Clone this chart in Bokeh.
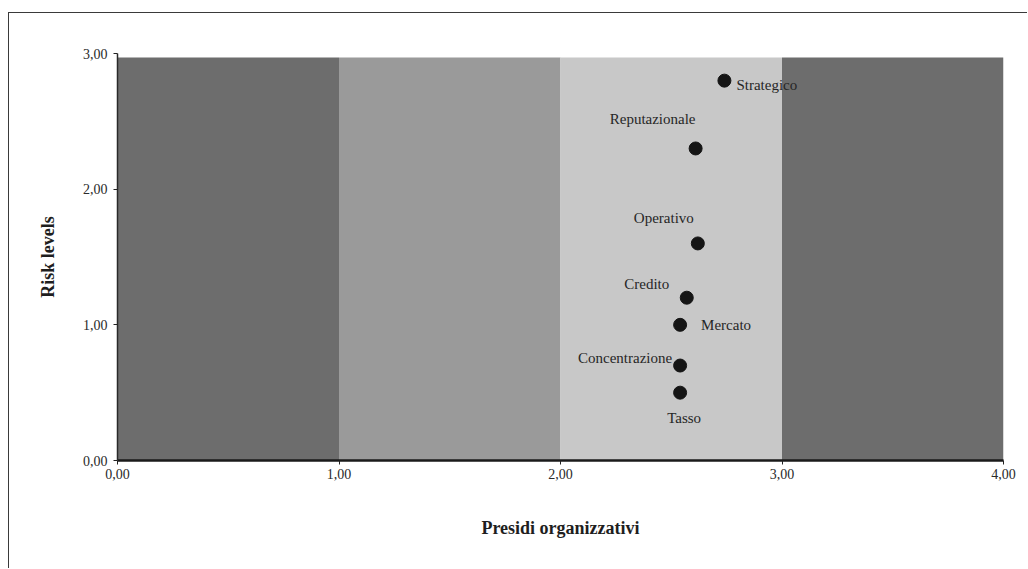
from bokeh.plotting import figure
from bokeh.models import ColumnDataSource, FixedTicker, Range1d
from bokeh.core.properties import value
from bokeh.embed import file_html
from bokeh.resources import INLINE

# ---- data ----
risk_names = ["Strategico", "Reputazionale", "Operativo", "Credito", "Mercato", "Concentrazione", "Tasso"]
presidi = [2.74, 2.61, 2.62, 2.57, 2.54, 2.54, 2.54]
risk_levels = [2.80, 2.30, 1.60, 1.20, 1.00, 0.70, 0.50]

band_left = [0.0, 1.0, 2.0, 3.0]
band_right = [1.0, 2.0, 3.0, 4.0]
band_top = [2.97, 2.97, 2.97, 2.97]

x_ticks = [0, 1, 2, 3, 4]
x_tick_labels = ["0,00", "1,00", "2,00", "3,00", "4,00"]
y_ticks = [0, 1, 2, 3]
y_tick_labels = ["0,00", "1,00", "2,00", "3,00"]

# ---- styles ----
band_colors = ["#6d6d6d", "#9a9a9a", "#c8c8c8", "#6d6d6d"]
lab_xoff = [12, -43, -34, -40, 21, -8, 4]
lab_yoff = [4, -29, -25, -14, 0, -8, 25]
lab_align = ["left", "center", "center", "center", "left", "right", "center"]
FONT = "Liberation Serif"

p = figure(width=1019, height=556, output_backend="svg", toolbar_location=None,
           x_range=Range1d(0, 4), y_range=Range1d(0, 3),
           min_border_left=108, min_border_right=25, min_border_top=40, min_border_bottom=109)
p.styles = {"margin-left": "8px", "margin-top": "12px",
            "border-left": "1.5px solid #3a3a3a", "border-top": "1.5px solid #3a3a3a"}
p.outline_line_color = None
p.xgrid.visible = False
p.ygrid.visible = False
p.background_fill_color = "white"
p.border_fill_color = "white"

p.quad(left=band_left, right=band_right, bottom=[0] * len(band_left), top=band_top,
       fill_color=band_colors, line_color=None)

src = ColumnDataSource(dict(x=presidi, y=risk_levels, name=risk_names,
                            xo=lab_xoff, yo=lab_yoff, al=lab_align))
p.scatter("x", "y", source=src, size=13, fill_color="#151515", line_color="#151515")
p.text("x", "y", text="name", source=src, x_offset="xo", y_offset="yo",
       text_align="al", text_baseline="middle",
       text_font=value(FONT), text_font_size="15px", text_color="#262626")

p.xaxis.ticker = FixedTicker(ticks=x_ticks)
p.xaxis.major_label_overrides = dict(zip(x_ticks, x_tick_labels))
p.yaxis.ticker = FixedTicker(ticks=y_ticks)
p.yaxis.major_label_overrides = dict(zip(y_ticks, y_tick_labels))

p.xaxis.axis_label = "Presidi organizzativi"
p.yaxis.axis_label = "Risk levels"
for ax in (p.xaxis, p.yaxis):
    ax.axis_label_text_font = FONT
    ax.axis_label_text_font_style = "bold"
    ax.axis_label_text_font_size = "18px"
    ax.axis_label_text_color = "#1e1e1e"
    ax.major_label_text_font = FONT
    ax.major_label_text_font_size = "14px"
    ax.major_label_text_color = "#2a2a2a"
    ax.minor_tick_line_color = None
    ax.major_tick_in = 0
    ax.major_tick_out = 4
    ax.major_tick_line_color = "#222222"
p.xaxis.axis_line_width = 2.5
p.xaxis.axis_line_color = "#1a1a1a"
p.yaxis.axis_line_width = 1.5
p.yaxis.axis_line_color = "#2a2a2a"
p.xaxis.major_label_standoff = 4
p.xaxis.axis_label_standoff = 36
p.yaxis.major_label_standoff = 6
p.yaxis.axis_label_standoff = 22

open("out.html", "w").write(file_html(p, INLINE))
